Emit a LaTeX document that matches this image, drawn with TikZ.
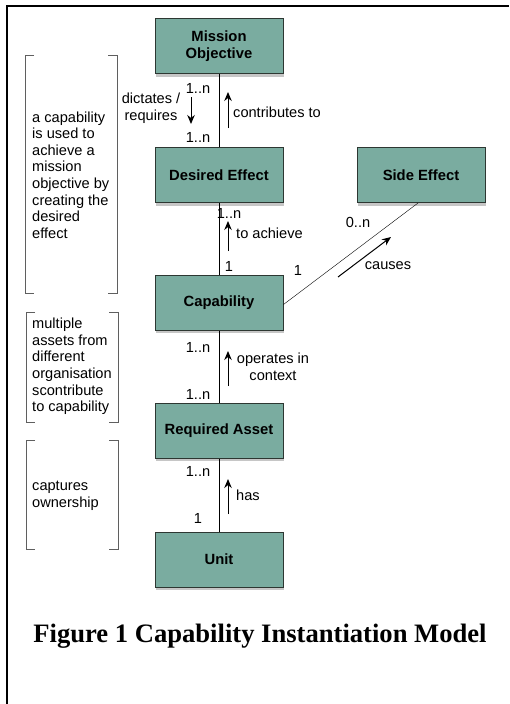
\documentclass[tikz,border=0pt]{standalone}
\usepackage{fontspec}
\setmainfont{Liberation Serif}
\setsansfont{Liberation Sans}
\usepackage{tikz}
\usetikzlibrary{arrows.meta,shadows}
\definecolor{xteal}{RGB}{122,172,160}
\definecolor{xedge}{RGB}{45,55,50}
\definecolor{xgray}{RGB}{95,95,95}

\begin{document}
\begin{tikzpicture}[x=1pt,y=-1pt,>={Stealth[length=9pt,width=7.5pt]},font=\sffamily\fontsize{14.6}{16.6}\selectfont]
\tikzset{cls/.style={rectangle,fill=xteal,draw=xedge,line width=1pt,minimum width=128pt,minimum height=55pt,
  font=\sffamily\bfseries\fontsize{14.8}{17}\selectfont,align=center,
  drop shadow={shadow xshift=1pt,shadow yshift=-3pt,opacity=0.45}}}
\tikzset{mult/.style={inner sep=0pt}}
\tikzset{note/.style={inner sep=0pt,align=left,anchor=west}}
\tikzset{brk/.style={draw=xgray,line width=0.9pt}}
\tikzset{dir/.style={->,line width=1pt}}
\useasboundingbox (0,0) rectangle (509,704);
% frame
\draw[line width=2.2pt] (7,704) -- (7,6.3) -- (509,6.3);
% classes
\node[cls] at (219,46) (mo) {Mission\\Objective};
\node[cls] at (219,175) (de) {Desired Effect};
\node[cls] at (421,175) (se) {Side Effect};
\node[cls] at (219,302.5) (cap) {Capability};
\node[cls] at (219,430.5) (ra) {Required Asset};
\node[cls] at (219,559.5) (unit) {Unit};
% associations
\draw (mo) -- (de);
\draw (de) -- (cap);
\draw (cap) -- (ra);
\draw (ra) -- (unit);
\draw ([yshift=-2pt]cap.east) -- ([xshift=-3pt]se.south);
% mission objective -- desired effect
\node[mult] at (198,88) (m1) {1..n};
\node[mult,align=center] at (151,108.5) (dr) {dictates /\\requires};
\coordinate (dra) at (191,97);
\coordinate (drb) at (191,124);
\draw[dir] (dra) -- (drb);
\node[mult] at (198,137) (m2) {1..n};
\coordinate (cta) at (228,128);
\coordinate (ctb) at (228,92);
\draw[dir] (cta) -- (ctb);
\node[note] at (233,112) (ct) {contributes to};
% desired effect -- capability
\node[mult] at (229,213) (m3) {1..n};
\coordinate (taa) at (228,251);
\coordinate (tab) at (228,221);
\draw[dir] (taa) -- (tab);
\node[note] at (236,233) (ta) {to achieve};
\node[mult] at (229,266) (m4) {1};
% capability -- side effect
\node[mult] at (358,222) (m5) {0..n};
\node[mult] at (298,270) (m6) {1};
\coordinate (caa) at (338,277);
\coordinate (cab) at (391,237);
\draw[dir] (caa) -- (cab);
\node[mult] at (388,266) (ca) {causes};
% capability -- required asset
\node[mult] at (198,347) (m7) {1..n};
\coordinate (oia) at (228,386);
\coordinate (oib) at (228,351);
\draw[dir] (oia) -- (oib);
\node[mult,align=center] at (273,367) (oi) {operates in\\context};
\node[mult] at (198,394) (m8) {1..n};
% required asset -- unit
\node[mult] at (198,471) (m9) {1..n};
\coordinate (hsa) at (228,514);
\coordinate (hsb) at (228,479);
\draw[dir] (hsa) -- (hsb);
\node[note] at (236,495) (hs) {has};
\node[mult] at (198,518) (m10) {1};
% notes in brackets
\draw[brk] (34,55) -- (25,55) -- (25,293) -- (34,293);
\draw[brk] (108,55) -- (117,55) -- (117,293) -- (108,293);
\node[note] at (32,175) (n1) {a capability\\is used to\\achieve a\\mission\\objective by\\creating the\\desired\\effect};
\draw[brk] (35,312) -- (26,312) -- (26,422) -- (35,422);
\draw[brk] (109,312) -- (118,312) -- (118,422) -- (109,422);
\node[note] at (32,366.5) (n2) {multiple\\assets from\\different\\organisation\\scontribute\\to capability};
\draw[brk] (35,440) -- (26,440) -- (26,549) -- (35,549);
\draw[brk] (109,440) -- (118,440) -- (118,549) -- (109,549);
\node[note] at (32,496) (n3) {captures\\ownership};
% caption
\node[font=\rmfamily\bfseries\fontsize{26.6}{30}\selectfont] at (260,636) (cap-txt) {Figure 1 Capability Instantiation Model};
\end{tikzpicture}
\end{document}
